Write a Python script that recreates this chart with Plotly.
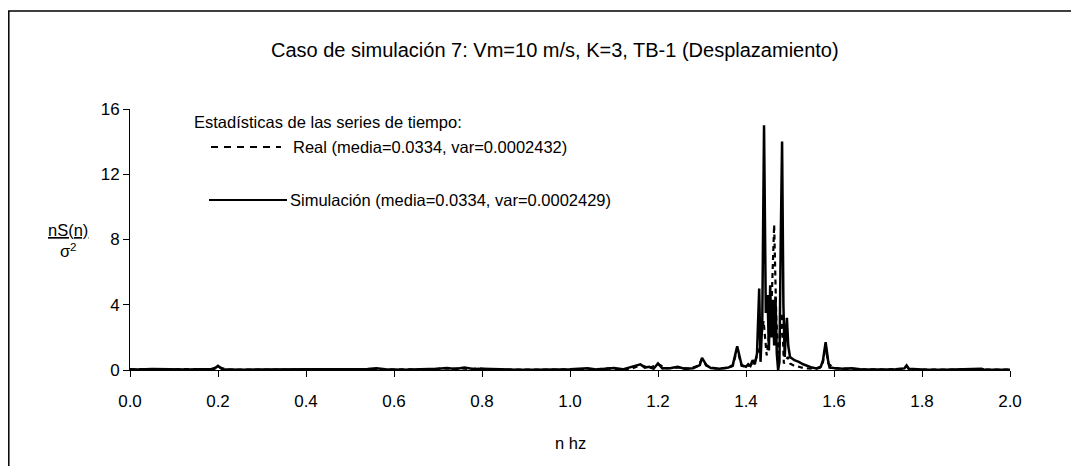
import plotly.graph_objects as go

# ---------------- data ----------------
sim_x = [0.00, 0.02, 0.05, 0.08, 0.10, 0.13, 0.16, 0.19, 0.20, 0.21, 0.25, 0.30, 0.35, 0.40,
         0.45, 0.50, 0.54, 0.56, 0.58, 0.62, 0.66, 0.70, 0.72, 0.74, 0.76, 0.78, 0.80, 0.84,
         0.88, 0.92, 0.96, 1.00, 1.04, 1.06, 1.10, 1.12, 1.16, 1.17, 1.18, 1.19, 1.20, 1.21,
         1.23, 1.245, 1.26, 1.28, 1.295, 1.30, 1.31, 1.32, 1.34, 1.36, 1.37, 1.38, 1.39, 1.40,
         1.405, 1.41, 1.415, 1.42, 1.425, 1.43, 1.433, 1.437, 1.441, 1.445, 1.449, 1.452, 1.455,
         1.458, 1.461, 1.464, 1.467, 1.470, 1.473, 1.476, 1.479, 1.482, 1.485, 1.488, 1.490,
         1.493, 1.496, 1.50, 1.51, 1.52, 1.53, 1.54, 1.55, 1.56, 1.57, 1.575, 1.581, 1.587,
         1.59, 1.60, 1.62, 1.64, 1.66, 1.70, 1.74, 1.76, 1.765, 1.77, 1.80, 1.85, 1.90, 1.935,
         1.94, 1.97, 2.00]
sim_y = [0.05, 0.03, 0.06, 0.04, 0.07, 0.03, 0.05, 0.04, 0.25, 0.04, 0.02, 0.03, 0.02, 0.02,
         0.03, 0.04, 0.06, 0.10, 0.05, 0.02, 0.03, 0.08, 0.12, 0.06, 0.15, 0.06, 0.08, 0.03,
         0.02, 0.02, 0.03, 0.04, 0.10, 0.03, 0.12, 0.04, 0.35, 0.15, 0.20, 0.08, 0.40, 0.10,
         0.12, 0.20, 0.08, 0.10, 0.30, 0.75, 0.30, 0.12, 0.08, 0.15, 0.30, 1.45, 0.30, 0.20,
         0.35, 0.25, 0.60, 0.35, 1.00, 5.00, 0.50, 3.00, 15.00, 3.50, 4.60, 1.20, 5.20,
         2.00, 4.30, 1.50, 4.50, 1.00, 0.00, 0.50, 8.00, 14.00, 4.00, 0.80, 2.00,
         3.20, 1.50, 0.80, 0.60, 0.50, 0.35, 0.25, 0.15, 0.10, 0.20, 0.60, 1.70, 0.50,
         0.15, 0.12, 0.08, 0.10, 0.05, 0.03, 0.04, 0.10, 0.28, 0.08, 0.03, 0.02, 0.03, 0.08,
         0.03, 0.02, 0.02]

real_x = [0.00, 0.03, 0.06, 0.09, 0.12, 0.15, 0.18, 0.20, 0.22, 0.26, 0.30, 0.36, 0.42, 0.48,
          0.52, 0.55, 0.57, 0.60, 0.64, 0.68, 0.71, 0.73, 0.75, 0.77, 0.79, 0.82, 0.86, 0.90,
          0.95, 1.00, 1.03, 1.05, 1.09, 1.11, 1.14, 1.16, 1.18, 1.20, 1.22, 1.245, 1.27, 1.29,
          1.30, 1.31, 1.33, 1.36, 1.37, 1.38, 1.39, 1.40, 1.41, 1.42, 1.43, 1.44, 1.447, 1.452,
          1.458, 1.464, 1.469, 1.474, 1.478, 1.482, 1.486, 1.49, 1.495, 1.50, 1.51, 1.52, 1.53,
          1.54, 1.56, 1.57, 1.575, 1.581, 1.587, 1.60, 1.63, 1.67, 1.72, 1.76, 1.765, 1.77,
          1.82, 1.88, 1.93, 1.97, 2.00]
real_y = [0.04, 0.06, 0.03, 0.05, 0.04, 0.06, 0.03, 0.20, 0.03, 0.02, 0.03, 0.02, 0.03, 0.04,
          0.05, 0.08, 0.04, 0.03, 0.02, 0.05, 0.10, 0.07, 0.12, 0.05, 0.09, 0.03, 0.02, 0.03,
          0.02, 0.05, 0.08, 0.04, 0.10, 0.03, 0.08, 0.30, 0.12, 0.35, 0.10, 0.15, 0.08, 0.25,
          0.65, 0.25, 0.10, 0.12, 0.25, 1.30, 0.25, 0.20, 0.30, 0.50, 1.20, 3.00, 0.90, 2.00,
          4.00, 8.90, 3.00, 1.00, 2.00, 3.50, 0.40, 0.60, 0.80, 0.40, 0.25, 0.20, 0.12,
          0.10, 0.08, 0.15, 0.50, 1.50, 0.40, 0.10, 0.06, 0.04, 0.03, 0.08, 0.22, 0.06,
          0.02, 0.03, 0.05, 0.02, 0.02]

x_ticks = [0.0, 0.2, 0.4, 0.6, 0.8, 1.0, 1.2, 1.4, 1.6, 1.8, 2.0]
y_ticks = [0, 4, 8, 12, 16]

title_text = "Caso de simulación 7: Vm=10 m/s, K=3, TB-1 (Desplazamiento)"
legend_head = "Estadísticas de las series de tiempo:"
real_name = "Real (media=0.0334, var=0.0002432)"
sim_name = "Simulación (media=0.0334, var=0.0002429)"
x_title = "n hz"

# ---------------- figure ----------------
# The page body has a default 8px margin, so the figure starts 8px in.
OFF = 8
SW, SH = 1079, 466                    # screen size
W, H = SW - OFF, SH - OFF             # figure size
# plot area on screen: x 130..1010, y 109..370
L, T = 130 - OFF, 109 - OFF
R, B = W - (1010 - OFF), H - (370 - OFF)
pw, ph = W - L - R, H - T - B


def px(xs):  # screen x -> paper x
    return (xs - OFF - L) / pw


def py(ys):  # screen y -> paper y
    return (H - B - (ys - OFF)) / ph


FONT = "Liberation Sans, Arial, sans-serif"
fig = go.Figure()
fig.add_trace(go.Scatter(x=real_x, y=real_y, mode="lines", name=real_name,
                         line=dict(color="black", width=2.2, dash="5px,4px")))
fig.add_trace(go.Scatter(x=sim_x, y=sim_y, mode="lines", name=sim_name,
                         line=dict(color="black", width=2.5)))

fig.update_layout(
    width=W, height=H,
    margin=dict(l=L, r=R, t=T, b=B),
    paper_bgcolor="white", plot_bgcolor="white",
    showlegend=False,
    font=dict(family=FONT, size=16.5, color="black"),
    xaxis=dict(range=[0, 2], tickvals=x_ticks, ticktext=[f"{v:.1f}" for v in x_ticks],
               showgrid=False, zeroline=False, showline=True, linecolor="black",
               linewidth=1, ticks="outside", ticklen=6, tickcolor="black",
               ticklabelstandoff=10, tickfont=dict(size=17)),
    yaxis=dict(range=[0, 16], tickvals=y_ticks, showgrid=False, zeroline=False,
               showline=True, linecolor="black", linewidth=1, ticks="outside",
               ticklen=6, tickcolor="black", tickfont=dict(size=17)),
)

ann = [
    dict(text=title_text, x=px(555), y=py(50), xref="paper", yref="paper",
         showarrow=False, xanchor="center", yanchor="middle", font=dict(size=20)),
    dict(text=x_title, x=px(570), y=py(443), xref="paper", yref="paper",
         showarrow=False, xanchor="center", yanchor="middle"),
    dict(text="<u>nS(n)</u><br>σ<sup>2</sup>", x=px(68), y=py(240), xref="paper", yref="paper",
         showarrow=False, xanchor="center", yanchor="middle"),
    dict(text=legend_head, x=px(192), y=py(122), xref="paper", yref="paper",
         showarrow=False, xanchor="left", yanchor="middle"),
    dict(text=real_name, x=px(291), y=py(147), xref="paper", yref="paper",
         showarrow=False, xanchor="left", yanchor="middle"),
    dict(text=sim_name, x=px(288), y=py(200), xref="paper", yref="paper",
         showarrow=False, xanchor="left", yanchor="middle"),
]
fig.update_layout(annotations=ann)

shapes = [
    dict(type="rect", xref="paper", yref="paper", x0=px(8.8), x1=px(1076), y0=py(11), y1=py(480),
         line=dict(color="black", width=1.5), fillcolor="rgba(0,0,0,0)"),
    dict(type="line", xref="paper", yref="paper", x0=px(211), x1=px(281), y0=py(147), y1=py(147),
         line=dict(color="black", width=2, dash="7px,6px")),
    dict(type="line", xref="paper", yref="paper", x0=px(209), x1=px(287), y0=py(200), y1=py(200),
         line=dict(color="black", width=2)),
]
fig.update_layout(shapes=shapes)

fig.write_html("out.html")
